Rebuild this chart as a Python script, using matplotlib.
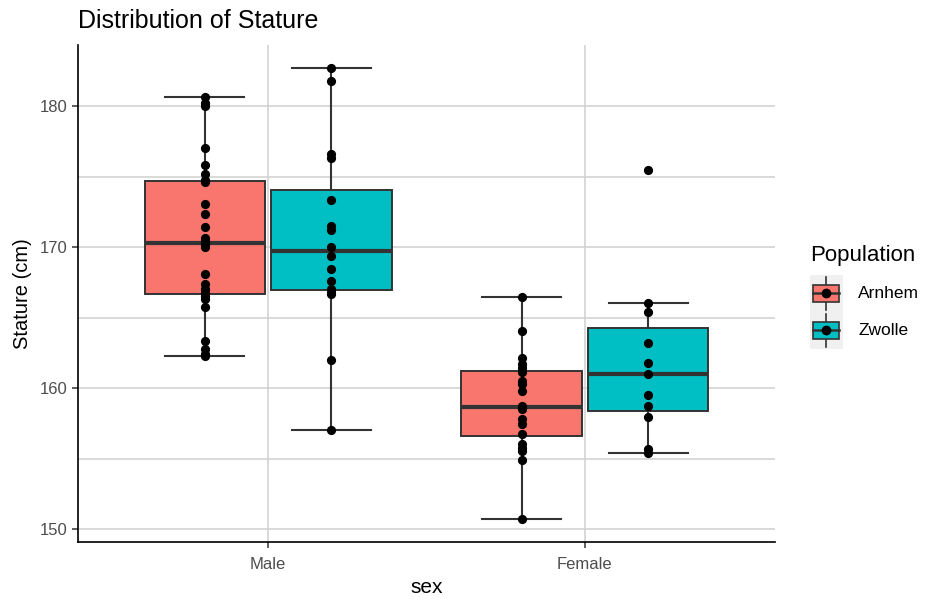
import matplotlib
matplotlib.use('Agg')
from matplotlib import pyplot as plt
from matplotlib.legend_handler import HandlerBase
from matplotlib.patches import Rectangle, Patch
from matplotlib.lines import Line2D
import numpy as np

plt.rcParams['font.family'] = ['Liberation Sans', 'DejaVu Sans']

sexes = ['Male', 'Female']
populations = ['Arnhem', 'Zwolle']
colors = {'Arnhem': '#F8766D', 'Zwolle': '#00BFC4'}

male_arnhem = [162.29, 162.41, 162.77, 163.36, 165.77, 166.31, 166.55, 166.78, 167.02,
               167.42, 168.13, 170.05, 170.2, 170.3, 170.45, 170.69, 171.4, 172.34,
               173.1, 174.6, 174.8, 175.18, 175.82, 177.0, 180.02, 180.26, 180.62]
male_zwolle = [157.02, 161.99, 166.67, 166.86, 167.02, 167.61, 168.44, 169.38,
               170.02, 171.2, 171.51, 173.33, 176.36, 176.6, 181.8, 182.74]
female_arnhem = [150.71, 154.89, 155.56, 155.8, 156.08, 156.79, 157.5, 157.8, 158.51, 158.63,
                 158.75, 159.81, 160.33, 160.52, 161.18, 161.46, 161.7, 162.13, 164.06, 166.48]
female_zwolle = [155.44, 155.67, 158.0, 158.75, 159.5, 160.99, 161.82, 163.21,
                 165.41, 166.03, 175.46]

groups = {
    ('Male', 'Arnhem'): male_arnhem,
    ('Male', 'Zwolle'): male_zwolle,
    ('Female', 'Arnhem'): female_arnhem,
    ('Female', 'Zwolle'): female_zwolle,
}

EDGE = '#333333'
GRID = '#CFCFCF'


class BoxKeyHandler(HandlerBase):
    # ggplot style boxplot key with a point on top
    def create_artists(self, legend, orig_handle, xdescent, ydescent, width, height, fontsize, trans):
        fc = orig_handle.get_facecolor()
        arts = []
        arts.append(Rectangle((-xdescent, -ydescent), width, height, facecolor='#F0F0F0',
                              edgecolor='none', transform=trans))
        x0, x1 = -xdescent + width * 0.1, -xdescent + width * 0.9
        y0, y1 = -ydescent + height * 0.27, -ydescent + height * 0.73
        xm = -xdescent + width / 2
        ym = -ydescent + height / 2
        arts.append(Line2D([xm, xm], [-ydescent + height * 0.05, y0], color=EDGE, lw=1.2, transform=trans))
        arts.append(Line2D([xm, xm], [y1, -ydescent + height * 0.95], color=EDGE, lw=1.2, transform=trans))
        arts.append(Rectangle((x0, y0), x1 - x0, y1 - y0, facecolor=fc, edgecolor=EDGE, lw=1.2,
                              transform=trans))
        arts.append(Line2D([x0, x1], [ym, ym], color=EDGE, lw=1.8, transform=trans))
        arts.append(Line2D([xm], [ym], marker='o', ms=6, color='black', transform=trans))
        return arts


fig, ax = plt.subplots(figsize=(9.32, 5.99), dpi=100)
fig.subplots_adjust(left=0.0837, right=0.8315, bottom=0.0952, top=0.925)

offsets = {'Arnhem': -0.2, 'Zwolle': 0.2}
for i, sex in enumerate(sexes):
    for pop in populations:
        vals = groups[(sex, pop)]
        pos = i + 1 + offsets[pop]
        ax.boxplot([vals], positions=[pos], widths=0.38, patch_artist=True, whis=1.5,
                   capwidths=0.25, showfliers=False, manage_ticks=False,
                   boxprops=dict(facecolor=colors[pop], edgecolor=EDGE, lw=1.4),
                   medianprops=dict(color=EDGE, lw=3),
                   whiskerprops=dict(color=EDGE, lw=1.5),
                   capprops=dict(color=EDGE, lw=1.5), zorder=3)
        ax.plot([pos] * len(vals), vals, 'o', color='black', ms=5.6, zorder=4)

ax.set_xlim(0.4, 2.6)
ax.margins(y=0.05)
ax.set_xticks([1, 2])
ax.set_xticklabels(sexes)
ax.set_yticks([150, 160, 170, 180])
ax.set_yticks([155, 165, 175], minor=True)
ax.tick_params(axis='both', which='major', labelsize=12, labelcolor='#4D4D4D', color=EDGE,
               length=4, width=1.1)
ax.tick_params(axis='x', which='major', pad=7)
ax.tick_params(axis='y', which='minor', length=0)
ax.grid(True, which='both', color=GRID, lw=1.1, zorder=0)
ax.set_axisbelow(True)
for s in ['top', 'right']:
    ax.spines[s].set_visible(False)
for s in ['left', 'bottom']:
    ax.spines[s].set_color('black')
    ax.spines[s].set_linewidth(1.2)
ax.spines['bottom'].set_bounds(0.4, 2.6)

ax.set_xlabel('sex', fontsize=15, labelpad=4)
ax.set_ylabel('Stature (cm)', fontsize=14.5, labelpad=6)
ax.set_title('Distribution of Stature', loc='left', fontsize=18, pad=12)

handles = [Patch(facecolor=colors[p], label=p) for p in populations]
leg = fig.legend(handles=handles, labels=populations, title='Population',
                 loc='center left', bbox_to_anchor=(0.852, 0.504), frameon=False,
                 handler_map={Patch: BoxKeyHandler()}, fontsize=12.5, title_fontsize=16,
                 handlelength=1.9, handleheight=2.9, handletextpad=0.9, labelspacing=0.0)
leg._legend_box.align = 'left'
leg._legend_box.sep = 6

fig.savefig('out.png', dpi=100)
